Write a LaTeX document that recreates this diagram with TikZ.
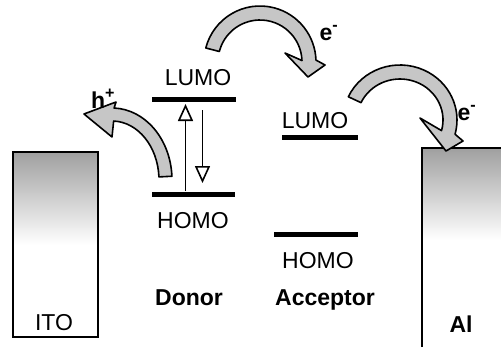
\documentclass[tikz,border=0pt]{standalone}
\usepackage{fontspec}
\setmainfont{Liberation Sans}
\usetikzlibrary{arrows.meta}
\begin{document}
\begin{tikzpicture}[x=1pt,y=-1pt,
  lbl/.style={font=\fontsize{23}{27}\selectfont, inner sep=0pt, anchor=base},
  blbl/.style={lbl, font=\fontsize{23}{27}\selectfont\bfseries},
  levelbar/.style={fill=black, draw=none, inner sep=0pt, minimum height=5pt},
  band/.style={draw=black, line width=1.6pt, fill=gray!45, line join=round},
  electrode/.style={draw=black, line width=1.6pt},
  vert/.style={draw=black, line width=1.6pt, -{Triangle[open, length=17pt, width=15pt]}}]
\useasboundingbox (0,0) rectangle (501,349);

% electrodes
\shade[top color=gray!75, bottom color=white] (13,152) rectangle (98,245);
\draw[electrode] (13,152) rectangle (98,337);
\node[lbl] (ito) at (54,330) {ITO};
\shade[top color=gray!75, bottom color=white] (422,148) rectangle (501,240);
\draw[electrode] (422,347) -- (422,148) -- (503,148);
\node[blbl] (al) at (461,332) {Al};

% donor levels
\node[levelbar, minimum width=84pt] (dlumo) at (194,99.5) {};
\node[levelbar, minimum width=83pt] (dhomo) at (193.5,194.5) {};
\node[lbl] (dlumot) at (198,85) {LUMO};
\node[lbl] (dhomot) at (193,228) {HOMO};
\node[blbl] (donor) at (189,305) {Donor};

% acceptor levels
\node[levelbar, minimum width=76pt] (alumo) at (320,137) {};
\node[levelbar, minimum width=84pt] (ahomo) at (316,234.5) {};
\node[lbl] (alumot) at (315,128) {LUMO};
\node[lbl] (ahomot) at (318,268) {HOMO};
\node[blbl] (acceptor) at (325,305) {Acceptor};

% vertical transitions
\coordinate (upS) at (185.5,191);
\coordinate (upE) at (185.5,104);
\coordinate (dnS) at (202.5,110);
\coordinate (dnE) at (202.5,183);
\draw[vert] (upS) -- (upE);
\draw[vert] (dnS) -- (dnE);

% curved arrows
\filldraw[band] ({260+56*cos(194.5)},{62+56*sin(194.5)})
  arc[start angle=194.5, end angle=358, radius=56]
  -- (325,65) -- (308,77) -- (285,53)
  -- ({260+42*cos(358)},{62+42*sin(358)})
  arc[start angle=358, end angle=194.5, radius=42] -- cycle;

\filldraw[band] ({400+57*cos(205)},{120+55*sin(205)})
  arc[start angle=205, end angle=375, x radius=57, y radius=55]
  -- (463,141) -- (446,151) -- (420,118)
  -- ({400+43*cos(375)},{120+41*sin(375)})
  arc[start angle=375, end angle=205, x radius=43, y radius=41] -- cycle;

\filldraw[band] ({112+60*cos(357)},{180+72*sin(357)})
  arc[start angle=357, end angle=272, x radius=60, y radius=72]
  -- (116,102) -- (84,114) -- (112,137)
  -- ({112+47*cos(272)},{180+59*sin(272)})
  arc[start angle=272, end angle=357, x radius=47, y radius=59] -- cycle;

% carrier labels
\node[blbl] (hplus) at (103,108) {h\textsuperscript{+}};
\node[blbl] (e1) at (329,40) {e\textsuperscript{-}};
\node[blbl] (e2) at (467,120) {e\textsuperscript{-}};
\end{tikzpicture}
\end{document}
